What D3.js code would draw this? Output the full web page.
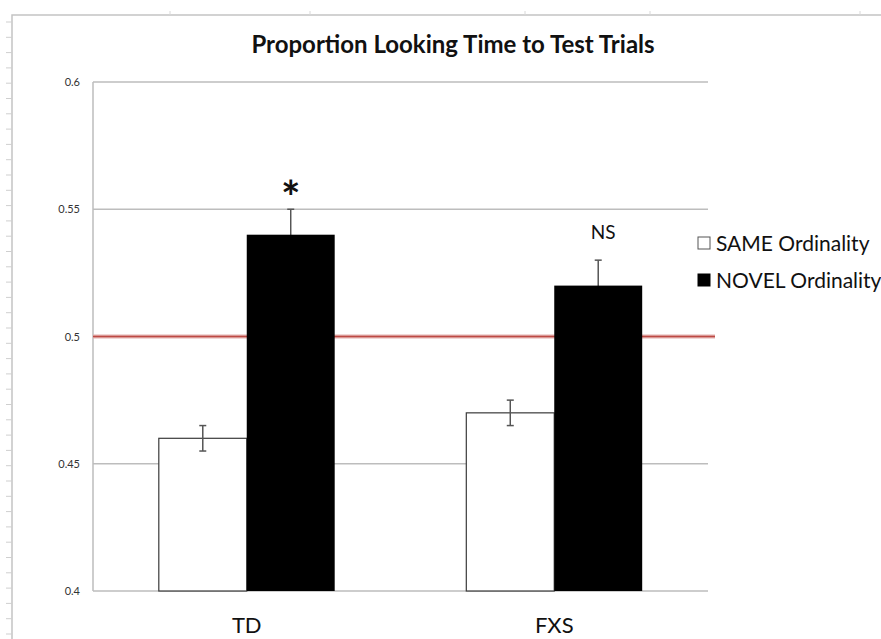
<!DOCTYPE html>
<html>
<head>
<meta charset="utf-8">
<script src="https://cdn.jsdelivr.net/npm/d3@7"></script>
<style>
  body { margin: 0; background: #fff; }
  svg { display: block; }
</style>
</head>
<body>
<div class="chart-container"></div>
<script>
const width = 881;
const height = 639;

// chart data
const groups = ["TD", "FXS"];
const conditions = ["SAME Ordinality", "NOVEL Ordinality"];
const sameValues = [0.46, 0.47];
const novelValues = [0.54, 0.52];
const sameErrors = [0.005, 0.005];
const novelErrors = [0.01, 0.01];
const yTicks = [0.4, 0.45, 0.5, 0.55, 0.6];
const significance = ["*", "NS"];
const chanceLevel = 0.5;

const margin = { top: 82, right: 173, bottom: 48, left: 93 };
const font = "Lato, 'Open Sans', sans-serif";

const svg = d3.select(".chart-container").append("svg")
    .attr("width", width)
    .attr("height", height);

// the sheet border with ruler ticks round the figure
svg.append("path")
    .attr("d", `M12,${height} V15 H${width}`)
    .attr("fill", "none")
    .attr("stroke", "#c4c4c4")
    .attr("stroke-width", 1.5);
svg.append("g")
    .selectAll("line")
    .data(d3.range(22, height, 15.3))
    .join("line")
    .attr("x1", 6).attr("x2", 12)
    .attr("y1", d => d).attr("y2", d => d)
    .attr("stroke", "#cfcfcf");
svg.append("g")
    .selectAll("line")
    .data([170, 310, 525, 650, 860])
    .join("line")
    .attr("x1", d => d).attr("x2", d => d)
    .attr("y1", 11).attr("y2", 15)
    .attr("stroke", "#d8d8d8");

const x0 = d3.scaleBand()
    .domain(groups)
    .range([margin.left, width - margin.right])
    .paddingInner(0.428)
    .paddingOuter(0.214);

const x1 = d3.scaleBand()
    .domain(conditions)
    .range([0, x0.bandwidth()]);

const y = d3.scaleLinear()
    .domain([0.4, 0.6])
    .range([height - margin.bottom, margin.top]);

// gridlines
svg.append("g")
    .selectAll("line")
    .data(yTicks.filter(d => d !== chanceLevel))
    .join("line")
    .attr("x1", margin.left)
    .attr("x2", width - margin.right)
    .attr("y1", d => y(d))
    .attr("y2", d => y(d))
    .attr("stroke", "#bdbdbd")
    .attr("stroke-width", 1.5);

svg.append("line")
    .attr("x1", margin.left).attr("x2", margin.left)
    .attr("y1", y(0.6)).attr("y2", y(0.4))
    .attr("stroke", "#bdbdbd")
    .attr("stroke-width", 1.5);

// y tick labels
const yAxis = svg.append("g")
    .attr("transform", `translate(${margin.left},0)`)
    .call(d3.axisLeft(y).tickValues(yTicks).tickSize(0).tickPadding(13).tickFormat(d3.format("")));
yAxis.select(".domain").remove();
yAxis.selectAll("text")
    .attr("font-family", font)
    .attr("font-size", 11)
    .attr("fill", "#333");

// chance line at 0.5
svg.append("line")
    .attr("x1", margin.left).attr("x2", width - margin.right + 7)
    .attr("y1", y(chanceLevel)).attr("y2", y(chanceLevel))
    .attr("stroke", "#e3b0ae")
    .attr("stroke-width", 4);
svg.append("line")
    .attr("x1", margin.left).attr("x2", width - margin.right + 7)
    .attr("y1", y(chanceLevel)).attr("y2", y(chanceLevel))
    .attr("stroke", "#bd4a44")
    .attr("stroke-width", 1.5);

const sameX = i => x0(groups[i]) + x1(conditions[0]);
const novelX = i => x0(groups[i]) + x1(conditions[1]);

// SAME bars
svg.append("g")
    .selectAll("rect")
    .data(sameValues)
    .join("rect")
    .attr("x", (d, i) => sameX(i))
    .attr("y", d => y(d))
    .attr("width", x1.bandwidth())
    .attr("height", d => y(0.4) - y(d))
    .attr("fill", "#fff")
    .attr("stroke", "#3a3a3a")
    .attr("stroke-width", 1.2);

// error bars
function errorBars(values, errors, xPos) {
    const g = svg.append("g")
        .attr("stroke", "#555")
        .attr("stroke-width", 1.5);
    values.forEach((v, i) => {
        const cx = xPos(i) + x1.bandwidth() / 2;
        g.append("line")
            .attr("x1", cx).attr("x2", cx)
            .attr("y1", y(v - errors[i])).attr("y2", y(v + errors[i]));
        [v - errors[i], v + errors[i]].forEach(e => {
            g.append("line")
                .attr("x1", cx - 3.5).attr("x2", cx + 3.5)
                .attr("y1", y(e)).attr("y2", y(e));
        });
    });
}
errorBars(sameValues, sameErrors, sameX);
errorBars(novelValues, novelErrors, novelX);

// NOVEL bars
svg.append("g")
    .selectAll("rect")
    .data(novelValues)
    .join("rect")
    .attr("x", (d, i) => novelX(i))
    .attr("y", d => y(d))
    .attr("width", x1.bandwidth())
    .attr("height", d => y(0.4) - y(d))
    .attr("fill", "#000");

// significance marks
svg.append("g")
    .selectAll("text")
    .data(significance)
    .join("text")
    .attr("x", (d, i) => novelX(i) + x1.bandwidth() / 2 + (d === "*" ? 0 : 5))
    .attr("y", (d, i) => d === "*" ? y(novelValues[i] + novelErrors[i]) + 5 : y(novelValues[i] + novelErrors[i]) - 21)
    .attr("text-anchor", "middle")
    .attr("font-family", font)
    .attr("font-size", d => d === "*" ? 46 : 19)
    .attr("font-weight", d => d === "*" ? "bold" : "normal")
    .attr("fill", "#111")
    .text(d => d);

// category labels
svg.append("g")
    .selectAll("text")
    .data(groups)
    .join("text")
    .attr("x", d => x0(d) + x0.bandwidth() / 2)
    .attr("y", 633)
    .attr("text-anchor", "middle")
    .attr("font-family", font)
    .attr("font-size", 22)
    .attr("fill", "#111")
    .text(d => d);

// title
svg.append("text")
    .attr("x", 453)
    .attr("y", 53)
    .attr("text-anchor", "middle")
    .attr("font-family", font)
    .attr("font-weight", "bold")
    .attr("font-size", 24)
    .attr("fill", "#111")
    .text("Proportion Looking Time to Test Trials");

// legend
const legend = svg.append("g")
    .attr("transform", "translate(698,237)")
    .selectAll("g")
    .data(conditions)
    .join("g")
    .attr("transform", (d, i) => `translate(0,${i * 37})`);
legend.append("rect")
    .attr("width", 12)
    .attr("height", 12)
    .attr("fill", (d, i) => i === 0 ? "#fff" : "#000")
    .attr("stroke", (d, i) => i === 0 ? "#555" : "#000");
legend.append("text")
    .attr("x", 18)
    .attr("y", 14)
    .attr("font-family", font)
    .attr("font-size", 21)
    .attr("fill", "#111")
    .text(d => d);
</script>
</body>
</html>
